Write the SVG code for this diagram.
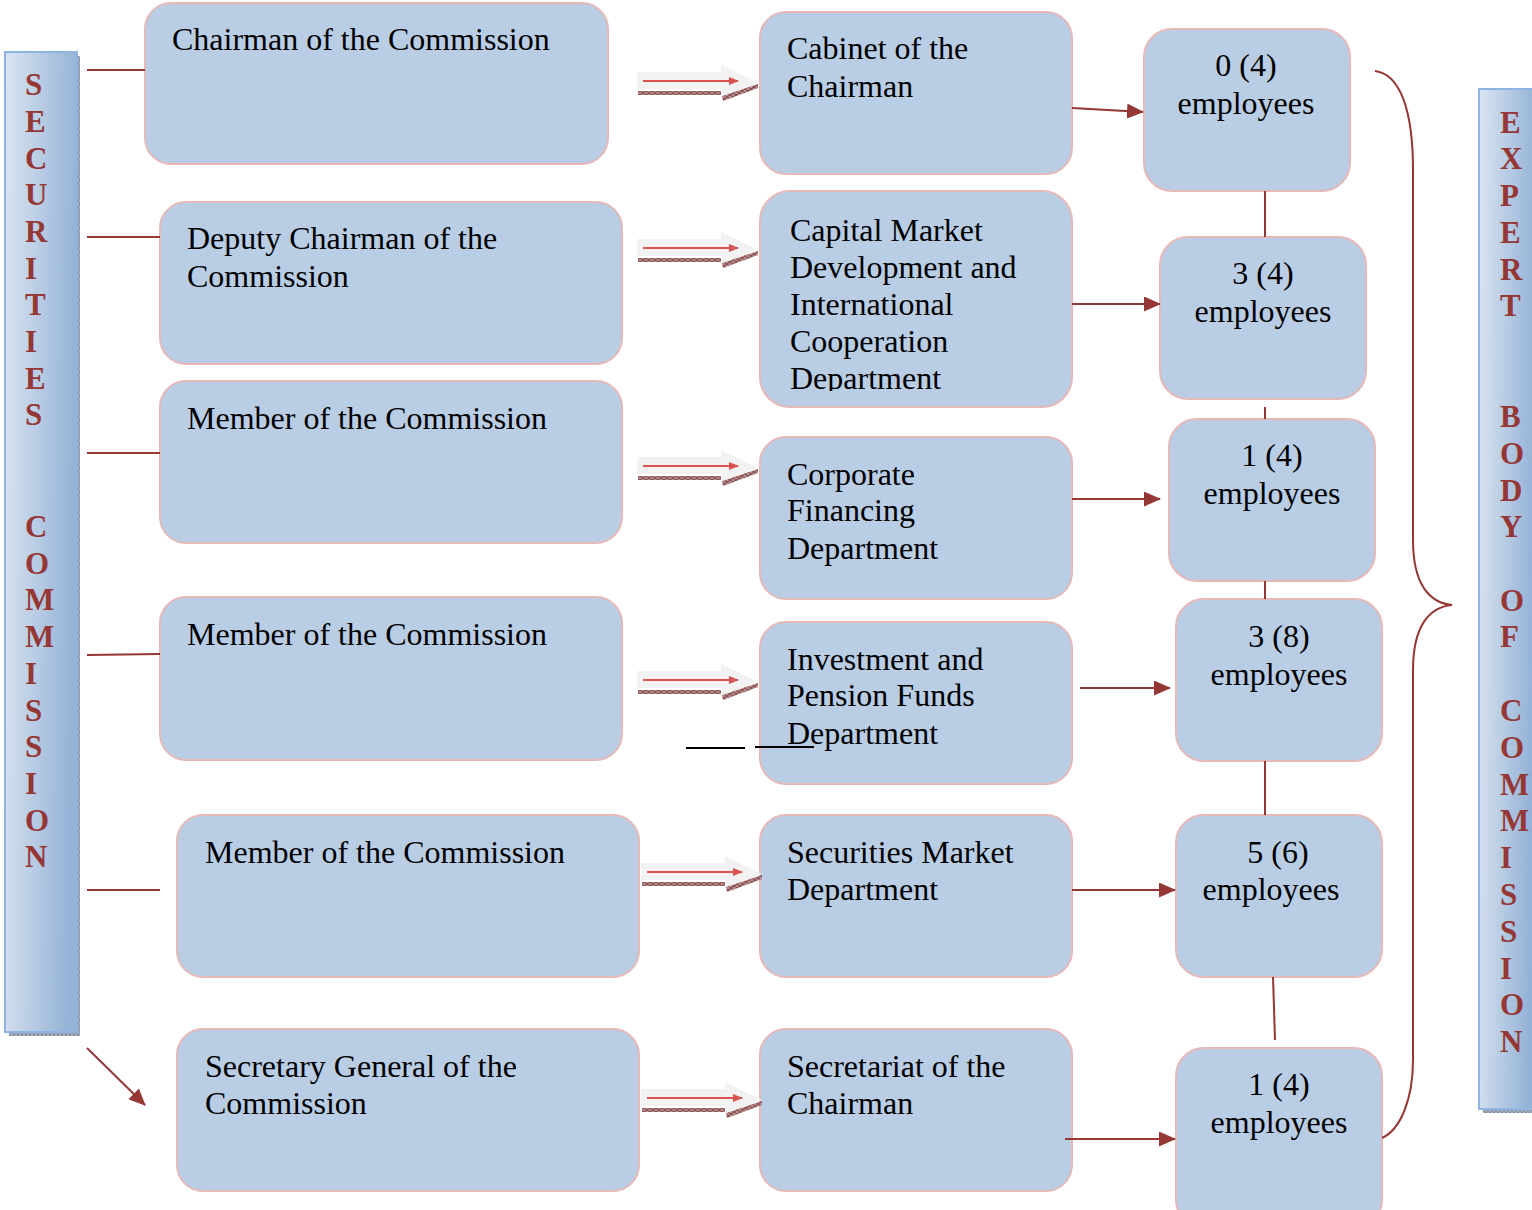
<svg xmlns="http://www.w3.org/2000/svg" width="1532" height="1210" viewBox="0 0 1532 1210">
<style>
.box{fill:#b9cde5;stroke:#e6b9b8;stroke-width:2}
.t{font-family:"Liberation Serif","Times New Roman",serif;font-size:32px;fill:#000}
.c{text-anchor:middle}
.ln{stroke:#953735;stroke-width:2;fill:none}
.v{font-family:"Liberation Serif","Times New Roman",serif;font-size:31px;font-weight:bold;fill:#953735}
</style>
<defs>
<marker id="ahb" markerWidth="17" markerHeight="15" refX="16" refY="7.5" orient="auto" markerUnits="userSpaceOnUse">
<path d="M0,0 L17,7.5 L0,15 Z" fill="#953735"/>
</marker>
<marker id="rh" markerWidth="10" markerHeight="8" refX="9" refY="4" orient="auto" markerUnits="userSpaceOnUse">
<path d="M0,0 L10,4 L0,8 Z" fill="#d9534f"/>
</marker>
<pattern id="hatch" width="6" height="4" patternUnits="userSpaceOnUse">
<rect width="6" height="4" fill="#b98e8e"/>
<path d="M0,0 L6,4 M0,4 L6,0" stroke="#7a4040" stroke-width="0.9"/>
</pattern>
<pattern id="hatch2" width="4" height="6" patternUnits="userSpaceOnUse">
<rect width="4" height="6" fill="#a8b3c4"/>
<path d="M0,0 L4,6 M4,0 L0,6" stroke="#6f7c90" stroke-width="0.7"/>
</pattern>
<linearGradient id="lg" x1="0" y1="0" x2="1" y2="0.15">
<stop offset="0" stop-color="#dbe5f1"/>
<stop offset="1" stop-color="#95b3d7"/>
</linearGradient>
<g id="fat">
<path d="M1,10 H84 V14 H1 Z" fill="url(#hatch)"/>
<path d="M85,15 L121,3 L121,7 L86,20 Z" fill="url(#hatch)"/>
<path d="M0,-9 H84 V-16 L121,2 L85,15 V8 H0 Z" fill="#f2f2f2"/>
<line x1="6" y1="0" x2="101" y2="0" stroke="#d9534f" stroke-width="2" marker-end="url(#rh)"/>
</g>
<clipPath id="clipCap"><rect x="760" y="191" width="312" height="200"/></clipPath>
</defs>

<g id="bar-left">
<rect x="9" y="56" width="71" height="980" fill="url(#hatch2)"/>
<rect x="5" y="52" width="72" height="980" fill="url(#lg)" stroke="#8eb4e3" stroke-width="2"/>
<g class="v">
<text x="25" y="95">S</text><text x="25" y="132">E</text><text x="25" y="169">C</text><text x="25" y="205">U</text><text x="25" y="242">R</text><text x="25" y="279">I</text><text x="25" y="315">T</text><text x="25" y="352">I</text><text x="25" y="389">E</text><text x="25" y="425">S</text>
<text x="25" y="537">C</text><text x="25" y="574">O</text><text x="25" y="610">M</text><text x="25" y="647">M</text><text x="25" y="684">I</text><text x="25" y="721">S</text><text x="25" y="757">S</text><text x="25" y="794">I</text><text x="25" y="831">O</text><text x="25" y="867">N</text>
</g>
</g>

<g id="bar-right">
<rect x="1483" y="93" width="52" height="1020" fill="url(#hatch2)"/>
<rect x="1479" y="89" width="56" height="1020" fill="url(#lg)" stroke="#8eb4e3" stroke-width="2"/>
<g class="v">
<text x="1500" y="133">E</text><text x="1500" y="169">X</text><text x="1500" y="206">P</text><text x="1500" y="243">E</text><text x="1500" y="280">R</text><text x="1500" y="316">T</text>
<text x="1500" y="427">B</text><text x="1500" y="464">O</text><text x="1500" y="501">D</text><text x="1500" y="537">Y</text>
<text x="1500" y="611">O</text><text x="1500" y="647">F</text>
<text x="1500" y="721">C</text><text x="1500" y="758">O</text><text x="1500" y="795">M</text><text x="1500" y="831">M</text><text x="1500" y="868">I</text><text x="1500" y="905">S</text><text x="1500" y="942">S</text><text x="1500" y="979">I</text><text x="1500" y="1015">O</text><text x="1500" y="1052">N</text>
</g>
</g>

<g id="n-chairman"><rect class="box" x="145" y="3" width="463" height="161" rx="26"/><text class="t" x="172" y="50">Chairman of the Commission</text></g>
<g id="n-deputy"><rect class="box" x="160" y="202" width="462" height="162" rx="26"/><text class="t" x="187" y="249">Deputy Chairman of the</text><text class="t" x="187" y="287">Commission</text></g>
<g id="n-member1"><rect class="box" x="160" y="381" width="462" height="162" rx="26"/><text class="t" x="187" y="429">Member of the Commission</text></g>
<g id="n-member2"><rect class="box" x="160" y="597" width="462" height="163" rx="26"/><text class="t" x="187" y="645">Member of the Commission</text></g>
<g id="n-member3"><rect class="box" x="177" y="815" width="462" height="162" rx="26"/><text class="t" x="205" y="863">Member of the Commission</text></g>
<g id="n-secgen"><rect class="box" x="177" y="1029" width="462" height="162" rx="26"/><text class="t" x="205" y="1077">Secretary General of the</text><text class="t" x="205" y="1114">Commission</text></g>

<g id="n-cabinet"><rect class="box" x="760" y="12" width="312" height="162" rx="26"/><text class="t" x="787" y="59">Cabinet of the</text><text class="t" x="787" y="97">Chairman</text></g>
<g id="n-capital"><rect class="box" x="760" y="191" width="312" height="216" rx="30"/><g clip-path="url(#clipCap)"><text class="t" x="790" y="241">Capital Market</text><text class="t" x="790" y="278">Development and</text><text class="t" x="790" y="315">International</text><text class="t" x="790" y="352">Cooperation</text><text class="t" x="790" y="389">Department</text></g></g>
<g id="n-corporate"><rect class="box" x="760" y="437" width="312" height="162" rx="26"/><text class="t" x="787" y="485">Corporate</text><text class="t" x="787" y="521">Financing</text><text class="t" x="787" y="559">Department</text></g>
<g id="n-investment"><rect class="box" x="760" y="622" width="312" height="162" rx="26"/><text class="t" x="787" y="670">Investment and</text><text class="t" x="787" y="706">Pension Funds</text><text class="t" x="787" y="744">Department</text></g>
<g id="n-securities"><rect class="box" x="760" y="815" width="312" height="162" rx="26"/><text class="t" x="787" y="863">Securities Market</text><text class="t" x="787" y="900">Department</text></g>
<g id="n-secretariat"><rect class="box" x="760" y="1029" width="312" height="162" rx="26"/><text class="t" x="787" y="1077">Secretariat of the</text><text class="t" x="787" y="1114">Chairman</text></g>

<g id="n-e1"><rect class="box" x="1144" y="29" width="206" height="162" rx="28"/><text class="t c" x="1246" y="76">0 (4)</text><text class="t c" x="1246" y="114">employees</text></g>
<g id="n-e2"><rect class="box" x="1160" y="237" width="206" height="162" rx="28"/><text class="t c" x="1263" y="284">3 (4)</text><text class="t c" x="1263" y="322">employees</text></g>
<g id="n-e3"><rect class="box" x="1169" y="419" width="206" height="162" rx="28"/><text class="t c" x="1272" y="466">1 (4)</text><text class="t c" x="1272" y="504">employees</text></g>
<g id="n-e4"><rect class="box" x="1176" y="599" width="206" height="162" rx="28"/><text class="t c" x="1279" y="647">3 (8)</text><text class="t c" x="1279" y="685">employees</text></g>
<g id="n-e5"><rect class="box" x="1176" y="815" width="206" height="162" rx="28"/><text class="t c" x="1278" y="863">5 (6)</text><text class="t c" x="1271" y="900">employees</text></g>
<g id="n-e6"><rect class="box" x="1176" y="1048" width="206" height="180" rx="28"/><text class="t c" x="1279" y="1095">1 (4)</text><text class="t c" x="1279" y="1133">employees</text></g>

<g id="connectors">
<line class="ln" x1="87" y1="70" x2="145" y2="70"/>
<line class="ln" x1="87" y1="237" x2="160" y2="237"/>
<line class="ln" x1="87" y1="453" x2="160" y2="453"/>
<line class="ln" x1="87" y1="655" x2="160" y2="654"/>
<line class="ln" x1="87" y1="890" x2="160" y2="890"/>
<line class="ln" x1="87" y1="1048" x2="145" y2="1105" marker-end="url(#ahb)"/>

<use href="#fat" x="637" y="81"/>
<use href="#fat" x="637" y="248"/>
<use href="#fat" x="637" y="466"/>
<use href="#fat" x="637" y="680"/>
<use href="#fat" x="641" y="872"/>
<use href="#fat" x="641" y="1098"/>

<line class="ln" x1="1072" y1="108" x2="1143" y2="112" marker-end="url(#ahb)"/>
<line class="ln" x1="1072" y1="304" x2="1160" y2="304" marker-end="url(#ahb)"/>
<line class="ln" x1="1072" y1="499" x2="1160" y2="499" marker-end="url(#ahb)"/>
<line class="ln" x1="1080" y1="688" x2="1170" y2="688" marker-end="url(#ahb)"/>
<line class="ln" x1="1072" y1="890" x2="1175" y2="890" marker-end="url(#ahb)"/>
<line class="ln" x1="1065" y1="1139" x2="1175" y2="1139" marker-end="url(#ahb)"/>

<line class="ln" x1="1265" y1="191" x2="1265" y2="237"/>
<line class="ln" x1="1265" y1="407" x2="1265" y2="419"/>
<line class="ln" x1="1265" y1="581" x2="1265" y2="599"/>
<line class="ln" x1="1265" y1="761" x2="1265" y2="815"/>
<line class="ln" x1="1273" y1="977" x2="1275" y2="1040"/>

<path class="ln" d="M1375,71 C1400,74 1413,110 1413,170 L1413,540 C1413,585 1430,603 1452,605 C1430,607 1413,625 1413,670 L1413,1060 C1413,1100 1400,1130 1382,1138"/>

<line x1="686" y1="748" x2="745" y2="748" stroke="#000" stroke-width="2"/>
<line x1="755" y1="747" x2="814" y2="747" stroke="#000" stroke-width="2"/>
</g>
</svg>
